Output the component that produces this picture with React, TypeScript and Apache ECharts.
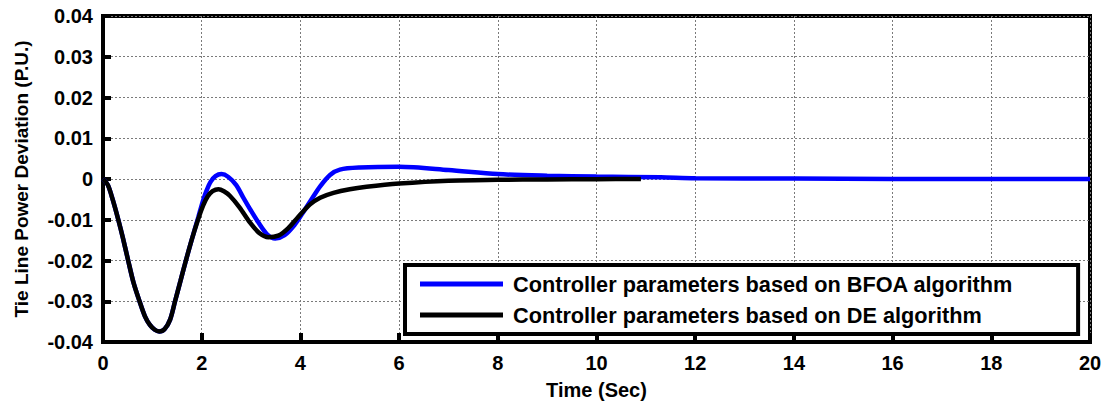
import React, { useEffect, useRef } from "react";
import * as echarts from "echarts";

const deTime = [0, 0.1, 0.2, 0.31, 0.4, 0.51, 0.62, 0.74, 0.85, 0.95, 1.05, 1.14, 1.25, 1.36, 1.46, 1.57, 1.68, 1.8, 1.93, 2.03, 2.12, 2.22, 2.34, 2.45, 2.57, 2.77, 2.98, 3.18, 3.35, 3.55, 3.75, 3.95, 4.19, 4.4, 4.67, 5.0, 5.34, 6.0, 7.0, 8.0, 9.0, 10.0, 10.9];
const deValues = [0, -0.0015, -0.0052, -0.01, -0.0143, -0.02, -0.0255, -0.03, -0.0337, -0.0358, -0.037, -0.0374, -0.0368, -0.0345, -0.03, -0.025, -0.02, -0.0148, -0.0098, -0.0065, -0.0043, -0.003, -0.0025, -0.003, -0.0041, -0.007, -0.0107, -0.0134, -0.0143, -0.0139, -0.0121, -0.0094, -0.0063, -0.0046, -0.0034, -0.0025, -0.0019, -0.0011, -0.0004, -0.0002, -0.0001, -0.00005, 0];

const bfoaTime = [0, 0.1, 0.2, 0.31, 0.4, 0.51, 0.62, 0.74, 0.85, 0.95, 1.05, 1.14, 1.25, 1.36, 1.46, 1.57, 1.68, 1.8, 1.93, 2.03, 2.1, 2.18, 2.28, 2.4, 2.54, 2.7, 2.84, 3.0, 3.15, 3.32, 3.49, 3.68, 3.88, 4.05, 4.22, 4.4, 4.6, 4.8, 5.2, 6.0, 7.0, 8.0, 9.0, 10.0, 11.3, 12.0, 14.0, 16.0, 18.0, 20.0];
const bfoaValues = [0, -0.0015, -0.0052, -0.01, -0.0143, -0.02, -0.0255, -0.03, -0.0337, -0.0358, -0.037, -0.0374, -0.0368, -0.0345, -0.03, -0.025, -0.02, -0.0148, -0.0094, -0.0052, -0.0028, -0.0007, 0.0007, 0.0012, 0.0005, -0.0015, -0.0045, -0.0078, -0.0107, -0.0135, -0.0146, -0.0138, -0.0113, -0.0083, -0.0051, -0.0018, 0.001, 0.0023, 0.0028, 0.003, 0.0022, 0.0012, 0.0008, 0.0006, 0.0004, 0.0002, 0.0001, 0, 0, 0];

const seriesNames = [
  "Controller parameters based on BFOA algorithm",
  "Controller parameters based on DE algorithm",
];
const xAxisTitle = "Time (Sec)";
const yAxisTitle = "Tie Line Power Deviation (P.U.)";

const FONT = "'Liberation Sans', Arial, Helvetica, sans-serif";

export default function App() {
  const ref = useRef<HTMLDivElement>(null);
  useEffect(() => {
    if (!ref.current) return;
    const chart = echarts.init(ref.current, null, { renderer: "svg" });
    const bfoa = bfoaTime.map((t, i) => [t, bfoaValues[i]]);
    const de = deTime.map((t, i) => [t, deValues[i]]);
    chart.setOption({
      animation: false,
      backgroundColor: "#ffffff",
      grid: {
        left: 103,
        right: 15,
        top: 16,
        bottom: 59,
        show: true,
        borderColor: "#000",
        borderWidth: 4,
        backgroundColor: "transparent",
      },
      legend: {
        orient: "vertical",
        left: 405,
        top: 265,
        data: seriesNames,
        icon: "rect",
        itemWidth: 83,
        itemHeight: 5,
        itemGap: 7,
        borderColor: "#000",
        borderWidth: 4,
        backgroundColor: "#fff",
        padding: [7, 65, 7, 15],
        textStyle: {
          fontFamily: FONT,
          fontWeight: "bold",
          fontSize: 21.7,
          color: "#000",
          lineHeight: 24,
          padding: [0, 0, 0, 5],
        },
      },
      xAxis: {
        type: "value",
        min: 0,
        max: 20,
        interval: 2,
        name: xAxisTitle,
        nameLocation: "middle",
        nameGap: 38,
        nameTextStyle: { fontFamily: FONT, fontWeight: "bold", fontSize: 20, color: "#000" },
        axisLine: { show: true, onZero: false, lineStyle: { color: "#000", width: 4 } },
        axisTick: { show: true, inside: true, length: 9, lineStyle: { color: "#000", width: 4 } },
        axisLabel: { fontFamily: FONT, fontWeight: "bold", fontSize: 20, color: "#000", margin: 11 },
        splitLine: { show: true, lineStyle: { color: "#7a7a7a", type: [2, 2], width: 1 } },
      },
      yAxis: {
        type: "value",
        min: -0.04,
        max: 0.04,
        interval: 0.01,
        name: yAxisTitle,
        nameLocation: "middle",
        nameGap: 72,
        nameRotate: 90,
        nameTextStyle: { fontFamily: FONT, fontWeight: "bold", fontSize: 19, color: "#000" },
        axisLine: { show: true, onZero: false, lineStyle: { color: "#000", width: 4 } },
        axisTick: { show: true, inside: true, length: 8, lineStyle: { color: "#000", width: 4 } },
        axisLabel: {
          fontFamily: FONT,
          fontWeight: "bold",
          fontSize: 20,
          color: "#000",
          margin: 10,
          formatter: (v: number) => (Math.abs(v) < 1e-9 ? "0" : v.toFixed(2)),
        },
        splitLine: { show: true, lineStyle: { color: "#7a7a7a", type: [2, 2], width: 1 } },
      },
      series: [
        {
          name: seriesNames[0],
          type: "line",
          data: bfoa,
          showSymbol: false,
          smooth: 0.3,
          color: "#0000ff",
          lineStyle: { color: "#0000ff", width: 4.5 },
          z: 2,
        },
        {
          name: seriesNames[1],
          type: "line",
          data: de,
          showSymbol: false,
          smooth: 0.3,
          color: "#000000",
          lineStyle: { color: "#000000", width: 4.5 },
          z: 3,
        },
      ],
    });
    return () => chart.dispose();
  }, []);
  return (
    <div
      ref={ref}
      style={{ position: "fixed", left: 0, top: 0, width: 1105, height: 405, background: "#fff" }}
    />
  );
}
